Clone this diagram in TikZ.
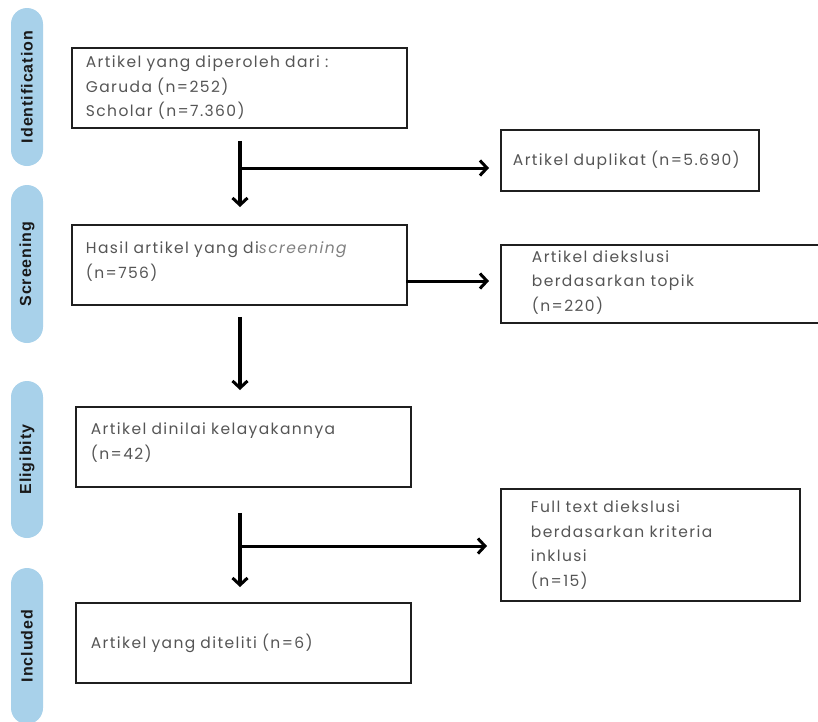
\documentclass[tikz,border=0pt]{standalone}
\usepackage{fontspec}
\setmainfont{Poppins}[LetterSpace=9,WordSpace=1.8]
\newfontfamily\pillfont{Liberation Sans}[LetterSpace=6]
\usetikzlibrary{arrows.meta}
\definecolor{pillblue}{HTML}{A8D1EA}
\definecolor{txtgray}{HTML}{555555}
\definecolor{itgray}{HTML}{808080}
\begin{document}
\begin{tikzpicture}[x=1pt,y=-1pt,
  pill/.style={fill=pillblue, rounded corners=16pt, minimum height=32pt, rotate=90,
    inner sep=0pt, font=\pillfont\fontsize{16}{18}\selectfont\bfseries, text=black!90},
  box/.style={draw=black!88, line width=1.8pt, anchor=north west, align=left,
    inner ysep=0pt, text=txtgray, font=\fontsize{15.5}{24.5}\selectfont},
  arr/.style={line width=3.4pt, draw=black, -{Straight Barb[length=7pt,width=15pt,line width=3pt]}}]
\useasboundingbox (0,0) rectangle (818,721);
% phase pills
\node[pill, minimum width=158pt] (p1) at (27,87) {Identification};
\node[pill, minimum width=158pt] (p2) at (27,264) {Screening};
\node[pill, minimum width=157pt] (p3) at (27,459.5) {Eligibity};
\node[pill, minimum width=156pt] (p4) at (27,646) {Included};
% boxes
\node[box, inner xsep=14pt, text width=307pt, minimum height=80pt] (b1) at (71,47)
  {Artikel yang diperoleh dari :\\Garuda (n=252)\\Scholar (n=7.360)};
\node[box, inner xsep=12pt, text width=234pt, minimum height=61pt] (dup) at (500,129)
  {Artikel duplikat (n=5.690)};
\node[box, inner xsep=14pt, text width=307pt, minimum height=80pt] (b2) at (71,224)
  {Hasil artikel yang di{\itshape\color{itgray}screening}\\(n=756)\rule[-10pt]{0pt}{10pt}};
\node[box, inner xsep=31pt, text width=260pt, minimum height=78pt] (tp) at (500,244)
  {Artikel diekslusi\\berdasarkan topik\\(n=220)\rule[-6pt]{0pt}{6pt}};
\node[box, inner xsep=15pt, text width=305pt, minimum height=80pt] (b3) at (75,406)
  {Artikel dinilai kelayakannya\\(n=42)\rule[-12pt]{0pt}{12pt}};
\node[box, inner xsep=30pt, text width=239pt, minimum height=112pt] (ft) at (500,488)
  {Full text diekslusi\\berdasarkan kriteria\\inklusi\\(n=15)};
\node[box, inner xsep=15pt, text width=305pt, minimum height=80pt] (b4) at (75,602)
  {Artikel yang diteliti (n=6)};
% connectors
\coordinate (ax) at (240,0);
\coordinate (j1) at (240,168);
\coordinate (j2) at (406,281);
\coordinate (j3) at (240,546);
\draw[arr, shorten <=12pt, shorten >=17pt] (b1.south -| ax) -- (b2.north -| ax);
\draw[arr, line width=3pt, shorten >=11pt] (j1) -- (j1 -| dup.west);
\draw[arr, line width=3pt, shorten >=11pt] (j2) -- (j2 -| tp.west);
\draw[arr, shorten <=11pt, shorten >=16pt] (b2.south -| ax) -- (b3.north -| ax);
\draw[arr, shorten <=25pt, shorten >=15pt] (b3.south -| ax) -- (b4.north -| ax);
\draw[arr, line width=3pt, shorten >=13pt] (j3) -- (j3 -| ft.west);
\end{tikzpicture}
\end{document}
